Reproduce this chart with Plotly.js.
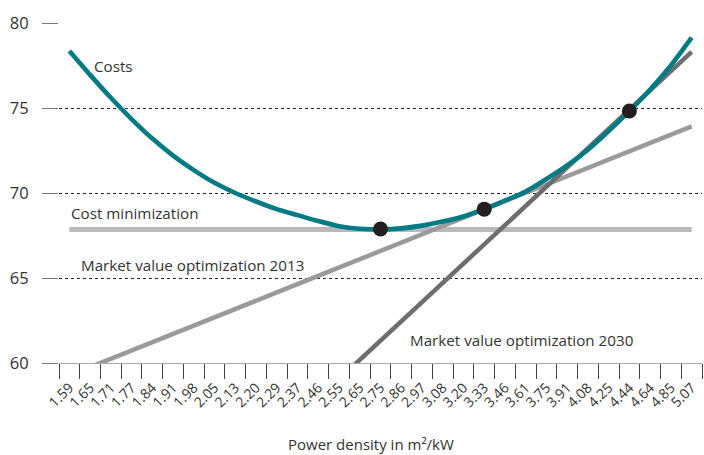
<!DOCTYPE html>
<html>
<head>
<meta charset="utf-8">
<script src="https://cdn.plot.ly/plotly-3.0.1.min.js"></script>
<style>html,body{margin:0;padding:0;background:#fff;}#chart{width:704px;height:455px;}</style>
</head>
<body>
<div id="chart"></div>
<script>
// Power density categories (m²/kW)
const categories = ["1.59","1.65","1.71","1.77","1.84","1.91","1.98","2.05","2.13","2.20","2.29","2.37","2.46","2.55","2.65","2.75","2.86","2.97","3.08","3.20","3.33","3.46","3.61","3.75","3.91","4.08","4.25","4.44","4.64","4.85","5.07"];

// Costs curve
const costs = [78.35,76.95,75.6,74.35,73.2,72.2,71.35,70.6,70.0,69.5,69.05,68.7,68.35,68.05,67.9,67.86,67.92,68.08,68.32,68.62,69.05,69.55,70.08,70.82,71.62,72.55,73.65,74.82,76.08,77.5,79.14];

// Cost minimization level
const costMin = [67.85,67.85,67.85,67.85,67.85,67.85,67.85,67.85,67.85,67.85,67.85,67.85,67.85,67.85,67.85,67.85,67.85,67.85,67.85,67.85,67.85,67.85,67.85,67.85,67.85,67.85,67.85,67.85,67.85,67.85,67.85];

// Market value optimization 2013 (rises from the 60 baseline between 1.65 and 1.71)
const mv2013Cats = categories.slice(1);
const mv2013 = [59.76,60.24,60.73,61.22,61.71,62.20,62.69,63.17,63.66,64.15,64.64,65.13,65.62,66.11,66.59,67.08,67.57,68.06,68.55,69.04,69.52,70.01,70.50,70.99,71.48,71.97,72.46,72.94,73.43,73.92];

// Market value optimization 2030 (rises from the 60 baseline just before 2.65)
const mv2030Cats = categories.slice(13);
const mv2030 = [59.05,60.18,61.31,62.45,63.58,64.71,65.85,66.97,68.11,69.24,70.37,71.50,72.63,73.77,74.90,76.03,77.16,78.30];

// Optimum points
const optCats = ["2.75","3.33","4.44"];
const optVals = [67.88,69.05,74.82];

const xTitle = "Power density in m²/kW";

const FONT = "Open Sans, Noto Sans, DejaVu Sans, sans-serif";

const traces = [
  {x: categories, y: costMin, type: "scatter", mode: "lines", line: {color: "#b9b9bc", width: 5}, hoverinfo: "skip"},
  {x: mv2013Cats, y: mv2013, type: "scatter", mode: "lines", line: {color: "#9a9a9c", width: 4.5}, hoverinfo: "skip"},
  {x: mv2030Cats, y: mv2030, type: "scatter", mode: "lines", line: {color: "#6e6e70", width: 4.5}, hoverinfo: "skip"},
  {x: categories, y: costs, type: "scatter", mode: "lines", line: {color: "#007b83", width: 4.6, shape: "spline", smoothing: 0.6}, hoverinfo: "skip"},
  {x: optCats, y: optVals, type: "scatter", mode: "markers", marker: {color: "#231f20", size: 15}, hoverinfo: "skip"}
];

const PL = 59, PR = 2, PT = 23, PB = 92, W = 704, H = 455;
const px = v => (v - PL) / (W - PL - PR);
const py = v => 1 - (v - PT) / (H - PT - PB);

const layout = {
  width: W, height: H,
  margin: {l: PL, r: PR, t: PT, b: PB},
  paper_bgcolor: "#fff", plot_bgcolor: "#fff",
  showlegend: false,
  font: {family: FONT, color: "#333"},
  xaxis: {
    type: "category",
    categoryorder: "array", categoryarray: categories,
    range: [-0.5, 30.5],
    tickmode: "linear", dtick: 1,
    tickson: "boundaries",
    ticks: "outside", ticklen: 15, tickcolor: "#444", tickwidth: 1,
    tickangle: -45,
    ticklabelstandoff: 10,
    tickfont: {size: 14, color: "#333", family: FONT},
    showgrid: false, zeroline: false,
    showline: true, linecolor: "#aaa", linewidth: 1
  },
  yaxis: {
    range: [60, 80],
    tickvals: [60, 65, 70, 75, 80],
    ticks: "outside", ticklen: 16, tickcolor: "#777", tickwidth: 1,
    ticklabelstandoff: 10,
    tickfont: {size: 16.5, color: "#333", family: FONT},
    showgrid: true, gridcolor: "#222", griddash: "3px,3px", gridwidth: 1,
    zeroline: false, showline: false
  },
  annotations: [
    {text: "Costs", x: 92, y: 66, anchor: "left"},
    {text: "Cost minimization", x: 69, y: 213, anchor: "left"},
    {text: "Market value optimization 2013", x: 79, y: 265, anchor: "left"},
    {text: "Market value optimization 2030", x: 408, y: 340, anchor: "left"},
    {text: xTitle, x: 371, y: 444, anchor: "center"}
  ].map(a => ({
    text: a.text, xref: "paper", yref: "paper",
    x: px(a.x), y: py(a.y),
    xanchor: a.anchor, yanchor: "middle", showarrow: false,
    font: {size: a.text === xTitle ? 15 : 15.2, color: "#333", family: FONT}
  }))
};

Plotly.newPlot("chart", traces, layout, {displayModeBar: false, staticPlot: true});
</script>
</body>
</html>
